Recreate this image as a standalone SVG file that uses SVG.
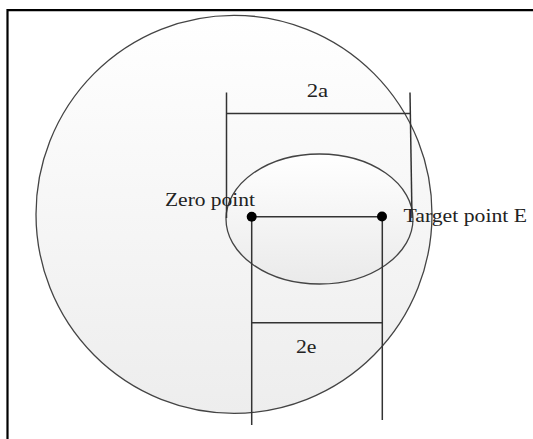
<svg xmlns="http://www.w3.org/2000/svg" width="533" height="439" viewBox="0 0 533 439">
<style>
.frame{fill:none;stroke:#000;stroke-width:2.2}
.shape{stroke:#444;stroke-width:1.3}
.ln{fill:none;stroke:#333;stroke-width:1.5}
.dot{fill:#000}
.t{font-family:"Liberation Serif","Times New Roman",serif;font-size:19.5px;fill:#222}
</style>
<defs>
<linearGradient id="g1" x1="0" y1="0" x2="0" y2="1">
<stop offset="0" stop-color="#ffffff"/>
<stop offset="1" stop-color="#ededed"/>
</linearGradient>
<linearGradient id="g2" x1="0" y1="0" x2="0" y2="1">
<stop offset="0" stop-color="#ffffff"/>
<stop offset="1" stop-color="#eaeaea"/>
</linearGradient>
</defs>
<rect width="533" height="439" fill="#fff"/>
<path class="frame" d="M7.5,439 V10.2 H533"/>
<g id="outer-circle">
<ellipse class="shape" cx="234" cy="214.3" rx="198" ry="199" fill="url(#g1)"/>
</g>
<g id="inner-ellipse">
<ellipse class="shape" cx="319.5" cy="219" rx="93.5" ry="65" fill="url(#g2)"/>
</g>
<g id="connectors">
<line class="ln" x1="226.5" y1="92.5" x2="226.5" y2="218"/>
<line class="ln" x1="410" y1="92.5" x2="412" y2="218"/>
<line class="ln" x1="226.5" y1="113.5" x2="410.5" y2="113.5"/>
<line class="ln" x1="251.7" y1="216.7" x2="382.3" y2="216.7"/>
<line class="ln" x1="251.7" y1="216.7" x2="251.7" y2="425"/>
<line class="ln" x1="382.3" y1="216.7" x2="382.3" y2="420"/>
<line class="ln" x1="251.7" y1="322.7" x2="382.3" y2="322.7"/>
</g>
<g id="zero-point">
<circle class="dot" cx="251.7" cy="216.7" r="5"/>
<text class="t" x="165" y="205.5" textLength="90" lengthAdjust="spacingAndGlyphs">Zero point</text>
</g>
<g id="target-point">
<circle class="dot" cx="382" cy="216.5" r="5"/>
<text class="t" x="403.5" y="221.7" textLength="123.5" lengthAdjust="spacingAndGlyphs">Target point E</text>
</g>
<g id="label-2a">
<text class="t" x="306.7" y="96.7" textLength="21.5" lengthAdjust="spacingAndGlyphs">2a</text>
</g>
<g id="label-2e">
<text class="t" x="296" y="353.3" textLength="20.5" lengthAdjust="spacingAndGlyphs">2e</text>
</g>
</svg>
